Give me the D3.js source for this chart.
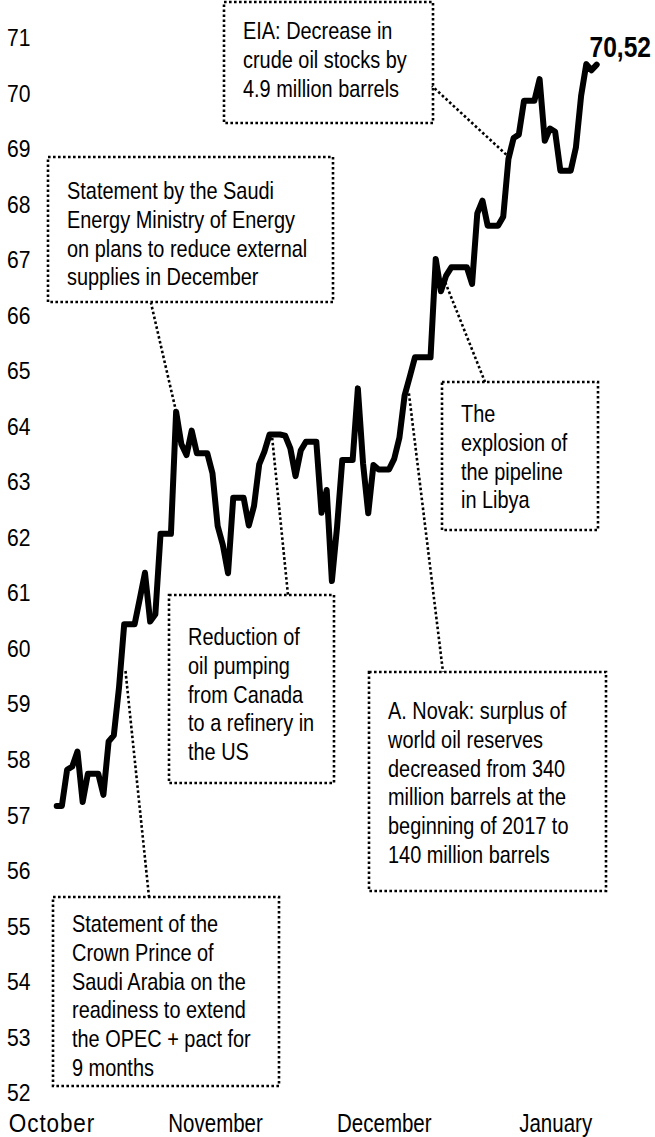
<!DOCTYPE html>
<html>
<head>
<meta charset="utf-8">
<script src="https://cdn.jsdelivr.net/npm/d3@7"></script>
<style>
  body { margin: 0; background: #fff; }
  svg { display: block; }
  text { font-family: "Liberation Sans", Arial, sans-serif; fill: #000; }
</style>
</head>
<body>
<svg id="chart"></svg>
<script>
// Brent, USD per barrel, one value per calendar day (weekends hold Friday's value)
const startDate = new Date(2017, 9, 14);
const prices = [
  57.17, 57.17, 57.82, 57.88, 58.15, 57.24, 57.75, 57.75, 57.75, 57.37,
  58.33, 58.44, 59.30, 60.44, 60.44, 60.44, 60.90, 61.37, 60.49, 60.62,
  62.07, 62.07, 62.07, 64.27, 63.69, 63.49, 63.93, 63.52, 63.52, 63.52,
  63.16, 62.21, 61.87, 61.36, 62.72, 62.72, 62.72, 62.22, 62.57, 63.32,
  63.55, 63.86, 63.86, 63.86, 63.84, 63.61, 63.11, 63.57, 63.73, 63.73,
  63.73, 62.45, 62.86, 61.22, 62.20, 63.40, 63.40, 63.40, 64.69, 63.34,
  62.44, 63.31, 63.23, 63.23, 63.23, 63.42, 63.80, 64.56, 64.90, 65.25,
  65.25, 65.25, 65.25, 67.02, 66.44, 66.72, 66.87, 66.87, 66.87, 66.87,
  66.57, 67.84, 68.07, 67.62, 67.62, 67.62, 67.78, 68.82, 69.20, 69.26,
  69.87, 69.87, 69.87, 70.26, 69.15, 69.37, 69.31, 68.61, 68.61, 68.61,
  69.03, 69.96, 70.53, 70.42, 70.52
];
const yTicks = d3.range(52, 72);
const monthLabels = ["October", "November", "December", "January"];
const monthLabelDates = [new Date(2017, 9, 13), new Date(2017, 10, 13, 12), new Date(2017, 11, 16), new Date(2018, 0, 18)];
const lastLabel = "70,52";

// annotation texts and the point of the line each one refers to
const notes = [
  { lines: ["EIA: Decrease in", "crude oil stocks by", "4.9 million barrels"],
    anchor: [new Date(2018, 0, 8, 14), 68.9] },
  { lines: ["Statement by the Saudi", "Energy Ministry of Energy", "on plans to reduce external", "supplies in December"],
    anchor: [new Date(2017, 10, 6), 64.27] },
  { lines: ["Reduction of", "oil pumping", "from Canada", "to a refinery in", "the US"],
    anchor: [new Date(2017, 10, 24, 12), 63.8] },
  { lines: ["The", "explosion of", "the pipeline", "in Libya"],
    anchor: [new Date(2017, 11, 27, 20), 66.6] },
  { lines: ["A. Novak: surplus of", "world oil reserves", "decreased from 340", "million barrels at the", "beginning of 2017 to", "140 million barrels"],
    anchor: [new Date(2017, 11, 20, 20), 64.6] },
  { lines: ["Statement of the", "Crown Prince of", "Saudi Arabia on the", "readiness to extend", "the OPEC + pact for", "9 months"],
    anchor: [new Date(2017, 9, 27, 6), 59.6] }
];
// box layout: x, y, w, h, first baseline, connector end on the box
const boxes = [
  { x: 224, y: 2, w: 209, h: 121, base: 39, end: [432, 86] },
  { x: 48, y: 157, w: 285, h: 145, base: 199, end: [151, 303] },
  { x: 169, y: 595, w: 165, h: 188, base: 645, end: [288, 595] },
  { x: 442, y: 382, w: 156, h: 148, base: 422, end: [485, 382] },
  { x: 369, y: 672, w: 237, h: 219, base: 719, end: [443, 672] },
  { x: 53, y: 897, w: 226, h: 189, base: 932, end: [149, 897] }
];

const width = 655, height = 1137;
const tickSize = 24, monthSize = 25, noteSize = 24, lineH = 28.8;
const tickSqueeze = 0.88, noteSqueeze = 0.83;
// the first month label is spread wider in the original
const monthSqueeze = [0.9, 0.82, 0.82, 0.82];
const monthSpacing = [1, 0, 0, 0];

const svg = d3.select("#chart")
  .attr("width", width)
  .attr("height", height);

const data = prices.map((v, i) => ({ date: d3.timeDay.offset(startDate, i), value: v }));

const x = d3.scaleTime()
  .domain([startDate, data[data.length - 1].date])
  .range([56.7, 596.7]);

const y = d3.scaleLinear()
  .domain([52, 71])
  .range([1093, 38]);

// y axis labels, no line
const yAxis = svg.append("g")
  .attr("transform", "translate(7,0)")
  .call(d3.axisLeft(y).tickValues(yTicks).tickSize(0).tickFormat(d3.format("d")));
yAxis.select(".domain").remove();
yAxis.selectAll("text")
  .attr("x", 0)
  .attr("text-anchor", "start")
  .attr("font-family", null)
  .attr("transform", `scale(${tickSqueeze},1)`)
  .style("font-size", tickSize + "px");

// month labels
const xAxis = svg.append("g")
  .attr("transform", "translate(0,1111)")
  .call(d3.axisBottom(x).tickValues(monthLabelDates).tickSize(0).tickFormat((d, i) => monthLabels[i]));
xAxis.select(".domain").remove();
xAxis.selectAll("text")
  .attr("font-family", null)
  .attr("transform", (d, i) => `scale(${monthSqueeze[i]},1)`)
  .style("letter-spacing", (d, i) => monthSpacing[i] + "px")
  .style("font-size", monthSize + "px");

// connectors
notes.forEach((n, i) => {
  svg.append("line")
    .attr("x1", x(n.anchor[0]))
    .attr("y1", y(n.anchor[1]))
    .attr("x2", boxes[i].end[0])
    .attr("y2", boxes[i].end[1])
    .attr("stroke", "#000")
    .attr("stroke-width", 2.6)
    .attr("stroke-dasharray", "2.6 2.4");
});

// price line
const line = d3.line()
  .x(d => x(d.date))
  .y(d => y(d.value));

svg.append("path")
  .datum(data)
  .attr("fill", "none")
  .attr("stroke", "#000")
  .attr("stroke-width", 6)
  .attr("stroke-linejoin", "round")
  .attr("stroke-linecap", "round")
  .attr("d", line);

// boxes with text (narrow type, squeezed horizontally)
notes.forEach((n, i) => {
  const b = boxes[i];
  const g = svg.append("g");
  g.append("rect")
    .attr("x", b.x)
    .attr("y", b.y)
    .attr("width", b.w)
    .attr("height", b.h)
    .attr("fill", "none")
    .attr("stroke", "#000")
    .attr("stroke-width", 2.6)
    .attr("stroke-dasharray", "2.6 2.4");
  const t = g.append("text")
    .attr("transform", `translate(${b.x + 19},0) scale(${noteSqueeze},1)`)
    .style("font-size", noteSize + "px");
  n.lines.forEach((s, k) => {
    t.append("tspan")
      .attr("x", 0)
      .attr("y", b.base + k * lineH)
      .text(s);
  });
});

// last value
svg.append("text")
  .attr("transform", "translate(651,57) scale(0.82,1)")
  .attr("text-anchor", "end")
  .style("font-size", "30px")
  .style("font-weight", "bold")
  .text(lastLabel);
</script>
</body>
</html>
